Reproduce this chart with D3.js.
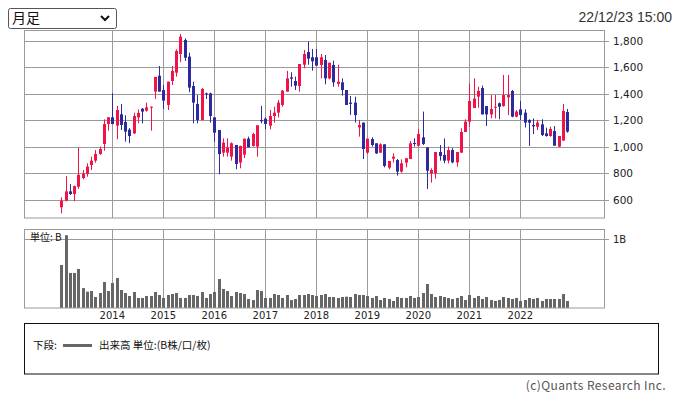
<!DOCTYPE html>
<html>
<head>
<meta charset="utf-8">
<script src="https://cdn.jsdelivr.net/npm/d3@7"></script>
<style>
  body { margin: 0; background: #fff; }
  svg { display: block; }
</style>
</head>
<body>
<svg id="chart" width="677" height="397"></svg>
<script>
// monthly candles, Jan 2013 .. Dec 2022
var startYear = 2013;
var openVals  = [545,595,665,645,700,766,797,864,897,947,1023,1173,1224,1161,1247,1189,1131,1103,1224,1289,1274,1297,1418,1538,1430,1317,1498,1561,1702,1808,1682,1460,1325,1204,1405,1405,1224,1128,957,957,927,1015,882,942,1063,1008,1003,1204,1214,1161,1234,1259,1317,1418,1526,1498,1460,1621,1717,1677,1677,1619,1657,1518,1619,1476,1488,1430,1335,1335,1148,1184,957,1060,1028,957,1020,844,912,902,814,882,909,1030,1010,1073,997,801,801,962,940,897,977,884,957,1113,1191,1294,1380,1445,1309,1246,1297,1330,1309,1375,1423,1229,1284,1259,1204,1166,1153,1171,1103,1083,1121,1003,1048,1264];
var highVals  = [620,780,720,708,995,826,877,927,977,1003,1209,1224,1405,1310,1325,1239,1143,1259,1284,1294,1335,1305,1529,1611,1468,1493,1611,1737,1853,1820,1712,1493,1392,1445,1410,1410,1224,1128,1065,1065,1035,1015,1010,1063,1078,1108,1164,1310,1224,1279,1304,1355,1430,1574,1564,1531,1626,1732,1795,1740,1740,1702,1694,1636,1652,1621,1518,1430,1385,1380,1204,1184,1063,1073,1028,1028,1020,894,952,909,907,915,1045,1065,1136,1267,997,839,962,1015,1065,1003,992,962,1141,1209,1480,1518,1455,1463,1309,1392,1392,1335,1544,1544,1430,1279,1347,1284,1209,1216,1204,1209,1146,1153,1158,1083,1325,1287];
var lowVals   = [499,590,637,590,685,756,776,826,882,940,972,1123,1173,1058,1128,1040,1028,1098,1179,1179,1267,1123,1362,1418,1287,1279,1468,1531,1640,1650,1413,1179,1179,1200,1362,1184,1040,794,927,927,897,832,839,917,997,1003,927,1179,1133,1133,1184,1224,1304,1418,1455,1430,1418,1594,1621,1576,1614,1518,1473,1511,1455,1455,1388,1317,1242,1184,1078,909,947,1003,947,957,846,831,882,784,806,846,909,1003,1003,1015,683,731,761,897,877,877,877,851,957,1113,1151,1294,1297,1246,1158,1216,1216,1209,1304,1241,1224,1224,1204,1148,1008,1098,1128,1083,1078,1078,1010,997,1048,1108];
var closeVals = [595,665,645,705,790,800,852,897,947,985,1173,1224,1173,1279,1166,1116,1083,1234,1257,1267,1299,1304,1529,1418,1350,1493,1574,1725,1833,1674,1448,1335,1204,1438,1398,1234,1108,947,1033,997,1028,872,1008,1063,997,1098,1164,1194,1174,1234,1259,1335,1425,1518,1516,1463,1626,1702,1667,1647,1614,1677,1518,1636,1488,1493,1430,1317,1325,1241,1166,985,1063,1015,952,1020,857,894,927,814,877,915,1028,1025,1098,1023,821,826,962,932,897,977,884,962,1113,1191,1347,1365,1423,1246,1246,1287,1304,1304,1392,1392,1229,1267,1241,1184,1184,1156,1184,1090,1083,1136,1010,1083,1272,1116];
// volume, millions of shares
var volumeVals = [626,1060,510,510,568,290,238,247,160,218,378,247,364,437,262,218,175,233,146,146,175,175,233,189,146,189,204,218,146,146,189,189,175,233,146,204,233,422,277,247,175,233,218,204,131,116,262,247,146,146,204,189,146,189,116,131,189,189,204,189,175,189,204,160,160,146,160,165,160,204,189,189,175,146,175,116,146,131,102,160,146,146,175,146,160,218,349,204,160,175,160,146,131,146,175,116,189,146,175,131,160,116,102,116,160,146,131,146,102,116,146,131,146,102,131,131,131,131,204,102];
var yearLabels = [2014,2015,2016,2017,2018,2019,2020,2021,2022];
var priceTicks = [600,800,1000,1200,1400,1600,1800];

var upColor = "#f0144b", downColor = "#2c2a9d", gridColor = "#9a9a9a";
var jpFont = "'Noto Sans CJK JP', sans-serif";
var numFont = "'DejaVu Sans', sans-serif";

var svg = d3.select("#chart");

var candles = openVals.map(function(o, i) {
    return {i: i, o: o, h: highVals[i], l: lowVals[i], c: closeVals[i], v: volumeVals[i]};
});

var left = 24, right = 604;
var x = d3.scaleLinear().domain([-8.78, 127.7]).range([left, right]);
var y = d3.scaleLinear().domain([464, 1883]).range([218, 30]);
var yv = d3.scaleLinear().domain([0, 1150]).range([308, 229]);

function yearIndex(yr) { return (yr - startYear) * 12; }

// header
var sel = svg.append("g");
sel.append("rect").attr("x", 8.5).attr("y", 8.5).attr("width", 108).attr("height", 20)
    .attr("rx", 2).style("fill", "#fff").style("stroke", "#555");
sel.append("text").attr("x", 12).attr("y", 23).style("font", "14px " + jpFont)
    .style("fill", "#111").text("月足");
sel.append("path").attr("d", "M101,16 L105,20 L109,16").style("fill", "none")
    .style("stroke", "#111").style("stroke-width", 2);

svg.append("text").attr("x", 672).attr("y", 22).attr("text-anchor", "end")
    .style("font", "14px 'Liberation Sans', sans-serif").style("fill", "#333")
    .text("22/12/23 15:00");

// price panel
var main = svg.append("g");
main.selectAll(".hgrid").data(priceTicks).enter().append("line")
    .attr("x1", left).attr("x2", right + 5)
    .attr("y1", function(d) { return Math.round(y(d)) + 0.5; })
    .attr("y2", function(d) { return Math.round(y(d)) + 0.5; })
    .style("stroke", gridColor);
main.selectAll(".vgrid").data(yearLabels).enter().append("line")
    .attr("x1", function(d) { return Math.round(x(yearIndex(d))) + 0.5; })
    .attr("x2", function(d) { return Math.round(x(yearIndex(d))) + 0.5; })
    .attr("y1", 30).attr("y2", 218)
    .style("stroke", gridColor);
main.append("rect").attr("x", left + 0.5).attr("y", 30.5).attr("width", right - left).attr("height", 187.5)
    .style("fill", "none").style("stroke", gridColor);
main.selectAll(".plabel").data(priceTicks).enter().append("text")
    .attr("x", 613).attr("y", function(d) { return y(d) + 4; })
    .style("font", "10.5px " + numFont).style("fill", "#222")
    .text(function(d) { return d3.format(",")(d); });

var bars = main.selectAll(".candle").data(candles).enter().append("g")
    .style("fill", function(d) { return d.c >= d.o ? upColor : downColor; })
    .style("stroke", function(d) { return d.c >= d.o ? upColor : downColor; });
bars.append("line")
    .attr("x1", function(d) { return Math.round(x(d.i)) + 0.5; })
    .attr("x2", function(d) { return Math.round(x(d.i)) + 0.5; })
    .attr("y1", function(d) { return y(d.h); })
    .attr("y2", function(d) { return y(d.l); });
bars.append("rect")
    .attr("x", function(d) { return Math.round(x(d.i)) - 1; })
    .attr("width", 3)
    .attr("y", function(d) { return y(Math.max(d.o, d.c)); })
    .attr("height", function(d) { return Math.max(1, Math.abs(y(d.o) - y(d.c))); })
    .style("stroke", "none");

// volume panel
var vol = svg.append("g");
vol.selectAll(".vgrid").data(yearLabels).enter().append("line")
    .attr("x1", function(d) { return Math.round(x(yearIndex(d))) + 0.5; })
    .attr("x2", function(d) { return Math.round(x(yearIndex(d))) + 0.5; })
    .attr("y1", 229).attr("y2", 308)
    .style("stroke", gridColor);
vol.append("line").attr("x1", left).attr("x2", right + 5)
    .attr("y1", Math.round(yv(1000)) + 0.5).attr("y2", Math.round(yv(1000)) + 0.5)
    .style("stroke", gridColor);
vol.selectAll(".vbar").data(candles).enter().append("rect")
    .attr("x", function(d) { return Math.round(x(d.i)) - 1; })
    .attr("width", 3)
    .attr("y", function(d) { return yv(d.v); })
    .attr("height", function(d) { return yv(0) - yv(d.v); })
    .style("fill", "#666");
vol.append("rect").attr("x", left + 0.5).attr("y", 229.5).attr("width", right - left).attr("height", 78.5)
    .style("fill", "none").style("stroke", gridColor);
vol.append("text").attr("x", 30).attr("y", 241).style("font", "10px " + jpFont)
    .style("fill", "#111").text("単位: B");
vol.append("text").attr("x", 613).attr("y", yv(1000) + 4).style("font", "10px " + numFont)
    .style("fill", "#222").text("1B");

vol.selectAll(".ylabel").data(yearLabels).enter().append("text")
    .attr("x", function(d) { return x(yearIndex(d)); })
    .attr("y", 319).attr("text-anchor", "middle")
    .style("font", "10px " + numFont).style("fill", "#222")
    .text(function(d) { return d; });

// legend
var lg = svg.append("g");
lg.append("rect").attr("x", 24.5).attr("y", 323.5).attr("width", 634).attr("height", 50.5)
    .style("fill", "none").style("stroke", "#111");
lg.append("text").attr("x", 33).attr("y", 349).style("font", "10.5px " + jpFont)
    .style("fill", "#111").text("下段:");
lg.append("line").attr("x1", 63).attr("x2", 92).attr("y1", 345.5).attr("y2", 345.5)
    .style("stroke", "#666").style("stroke-width", 3);
lg.append("text").attr("x", 99).attr("y", 349).style("font", "10.5px " + jpFont)
    .style("fill", "#111").text("出来高 単位:(B株/口/枚)");

svg.append("text").attr("x", 666).attr("y", 390).attr("text-anchor", "end")
    .style("font", "12px " + jpFont).style("letter-spacing", "0.4px").style("fill", "#555")
    .text("(c)Quants Research Inc.");
</script>
</body>
</html>
